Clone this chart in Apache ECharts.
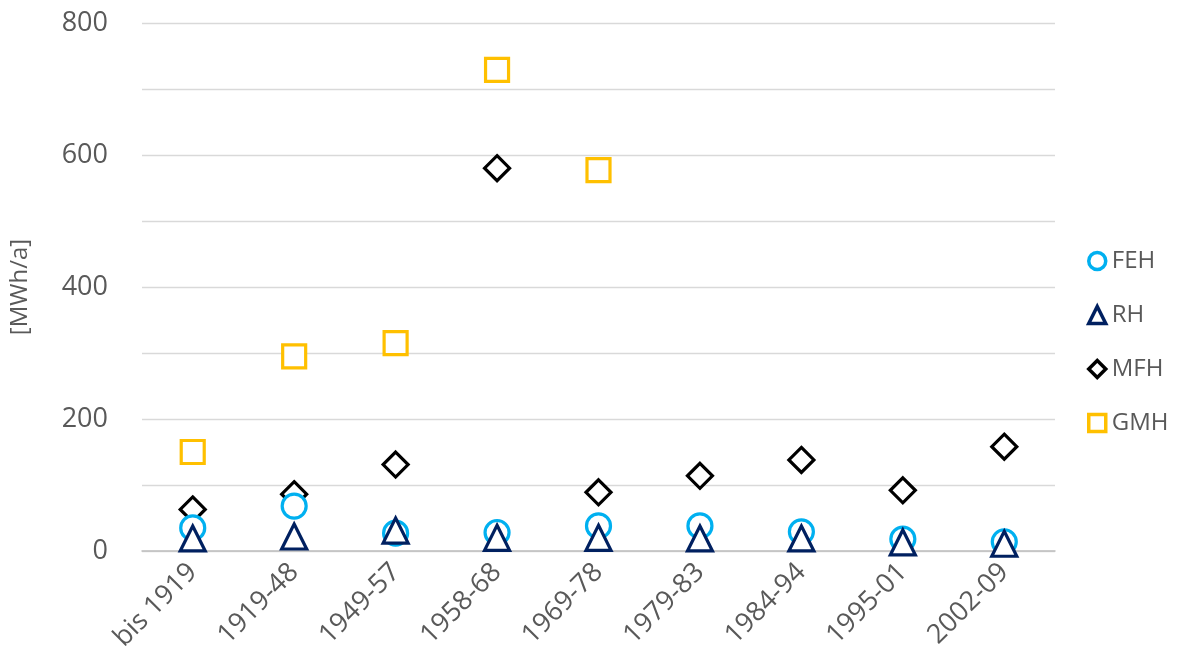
<!DOCTYPE html>
<html>
<head>
<meta charset="utf-8">
<script src="https://cdn.jsdelivr.net/npm/echarts@6/dist/echarts.min.js"></script>
<style>
  html, body { margin: 0; padding: 0; background: #fff; }
  #chart { width: 1180px; height: 671px; }
</style>
</head>
<body>
<div id="chart"></div>
<script>
// Building-age classes
const categories = ['bis 1919', '1919-48', '1949-57', '1958-68', '1969-78', '1979-83', '1984-94', '1995-01', '2002-09'];

// Annual demand per building type [MWh/a]
const feh = [35, 68, 27, 28, 38, 38, 29, 18, 14];
const rh  = [19, 22, 31, 20, 20, 19, 19, 13, 11];
const mfh = [63, 86, 131, 580, 89, 114, 138, 92, 158];
const gmh = [150, 295, 315, 729, 577, null, null, null, null];

const yTicks = [0, 200, 400, 600, 800];

const textColor = '#595959';
const font = 'Open Sans, Noto Sans, sans-serif';

function hollow(name, data, symbol, color, size) {
  return {
    name: name,
    type: 'scatter',
    data: data,
    symbol: symbol,
    symbolSize: size,
    itemStyle: { color: '#ffffff', borderColor: color, borderWidth: 3.2, opacity: 1 },
    emphasis: { disabled: true }
  };
}

const chart = echarts.init(document.getElementById('chart'), null, { renderer: 'canvas' });
chart.setOption({
  animation: false,
  grid: { left: 139, right: 125, top: 23, bottom: 120 },
  xAxis: {
    type: 'category',
    data: categories,
    boundaryGap: true,
    axisLine: { show: true, lineStyle: { color: '#bfbfbf', width: 1.5 } },
    axisTick: { show: false },
    axisLabel: {
      rotate: 45,
      interval: 0,
      margin: 17,
      color: textColor,
      fontFamily: font,
      fontSize: 27
    }
  },
  yAxis: {
    type: 'value',
    min: 0,
    max: 800,
    interval: 100,
    name: '[MWh/a]',
    nameLocation: 'middle',
    nameGap: 110,
    nameRotate: 90,
    nameTextStyle: { color: textColor, fontFamily: font, fontSize: 24 },
    axisLine: { show: false },
    axisTick: { show: false },
    splitLine: { lineStyle: { color: '#d9d9d9', width: 1.3 } },
    axisLabel: {
      margin: 34,
      color: textColor,
      fontFamily: font,
      fontSize: 27,
      formatter: function (v) { return yTicks.indexOf(v) >= 0 ? String(v) : ''; }
    }
  },
  legend: {
    orient: 'vertical',
    left: 1082,
    top: 244,
    itemGap: 30,
    itemWidth: 17,
    itemHeight: 17,
    itemStyle: { borderWidth: 3.5 },
    textStyle: { color: textColor, fontFamily: font, fontSize: 24, padding: [0, 0, 0, 1] },
    data: ['FEH', 'RH', 'MFH', 'GMH']
  },
  series: [
    hollow('GMH', gmh, 'rect', '#ffc000', 23),
    hollow('MFH', mfh, 'diamond', '#000000', [25, 25]),
    hollow('FEH', feh, 'circle', '#00b0f0', 24),
    hollow('RH', rh, 'triangle', '#002060', [25, 25])
  ]
});
</script>
</body>
</html>
